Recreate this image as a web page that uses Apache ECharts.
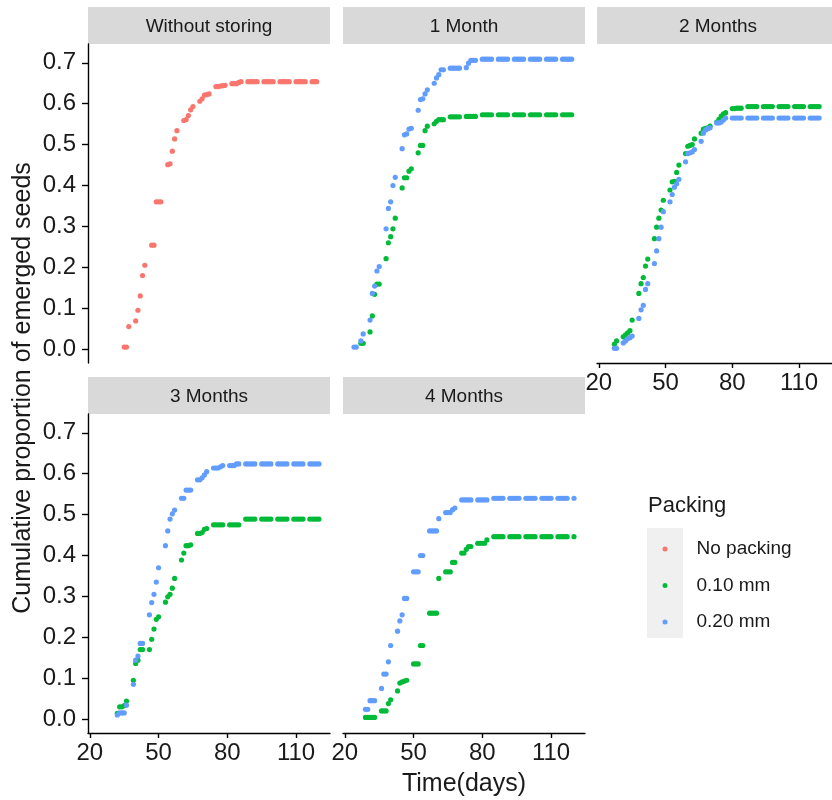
<!DOCTYPE html>
<html><head><meta charset="utf-8">
<script src="https://cdn.jsdelivr.net/npm/echarts@6/dist/echarts.min.js"></script>
<style>html,body{margin:0;padding:0;background:#fff}#c{width:832px;height:800px}</style>
</head><body><div id="c"></div><script>
// ---- data: [day, cumulative proportion] ----
const panelTitles = ['Without storing', '1 Month', '2 Months', '3 Months', '4 Months'];
const packingNames = ['No packing', '0.10 mm', '0.20 mm'];
const xTicks = [20, 50, 80, 110];
const yTicks = [0, 0.1, 0.2, 0.3, 0.4, 0.5, 0.6, 0.7];

const noStore_none = [
[35,0.005],[36,0.005],[37,0.055],[40,0.069],[41,0.095],[42,0.13],[43,0.18],[44,0.205],
[47,0.254],[48,0.254],[49,0.36],[50,0.36],[51,0.36],[54,0.451],[55,0.453],[56,0.484],[57,0.514],[58,0.534],
[61,0.559],[62,0.561],[63,0.571],[64,0.585],[65,0.593],[68,0.606],[69,0.612],[70,0.621],[71,0.622],[72,0.624],
[75,0.642],[76,0.642],[77,0.643],[78,0.644],[79,0.645],[82,0.649],[83,0.649],[84,0.649],[85,0.652],[86,0.654],
[89,0.654],[90,0.654],[91,0.654],[92,0.654],[93,0.654],[96,0.654],[97,0.654],[98,0.654],[99,0.654],[100,0.654],
[103,0.654],[104,0.654],[105,0.654],[106,0.654],[107,0.654],[110,0.654],[111,0.654],[112,0.654],[113,0.654],[114,0.654],
[117,0.654],[118,0.654],[119,0.654]];

const m1_010 = [
[27,0.014],[28,0.014],[31,0.042],[32,0.081],[33,0.134],[34,0.159],[35,0.159],[38,0.221],[39,0.26],[40,0.275],[41,0.294],[42,0.32],
[45,0.394],[46,0.419],[47,0.419],[48,0.435],[49,0.441],[52,0.48],[53,0.498],[54,0.498],[55,0.534],[56,0.545],
[59,0.551],[60,0.557],[61,0.561],[62,0.561],[63,0.561],[66,0.568],[67,0.568],[68,0.568],[69,0.568],[70,0.568],
[73,0.569],[74,0.569],[75,0.569],[76,0.569],[77,0.569],[80,0.573],[81,0.573],[82,0.573],[83,0.573],[84,0.573],
[87,0.573],[88,0.573],[89,0.573],[90,0.573],[91,0.573],[94,0.573],[95,0.573],[96,0.573],[97,0.573],[98,0.573],
[101,0.573],[102,0.573],[103,0.573],[104,0.573],[105,0.573],[108,0.573],[109,0.573],[110,0.573],[111,0.573],[112,0.573],
[115,0.573],[116,0.573],[117,0.573],[118,0.573],[119,0.573]];

const m1_020 = [
[24,0.005],[25,0.005],[27,0.02],[28,0.037],[31,0.071],[32,0.136],[33,0.154],[34,0.191],[35,0.202],
[38,0.294],[39,0.344],[40,0.36],[41,0.40],[42,0.42],[45,0.49],[46,0.524],[47,0.526],[48,0.538],[49,0.54],
[52,0.584],[53,0.61],[54,0.612],[55,0.624],[56,0.634],[59,0.65],[60,0.663],[61,0.671],[62,0.683],[63,0.683],
[66,0.687],[67,0.687],[68,0.687],[69,0.687],[70,0.687],[73,0.688],[74,0.699],[75,0.706],[76,0.706],[77,0.706],
[80,0.709],[81,0.709],[82,0.709],[83,0.709],[84,0.709],[87,0.709],[88,0.709],[89,0.709],[90,0.709],[91,0.709],
[94,0.709],[95,0.709],[96,0.709],[97,0.709],[98,0.709],[101,0.709],[102,0.709],[103,0.709],[104,0.709],[105,0.709],
[108,0.709],[109,0.709],[110,0.709],[111,0.709],[112,0.709],[115,0.709],[116,0.709],[117,0.709],[118,0.709],[119,0.709]];

const m2_010 = [
[27,0.012],[28,0.02],[31,0.03],[32,0.035],[33,0.04],[34,0.045],[35,0.071],[38,0.136],[39,0.16],[40,0.175],[41,0.203],[42,0.22],
[45,0.27],[46,0.298],[47,0.32],[48,0.34],[49,0.364],[52,0.389],[53,0.409],[54,0.41],[55,0.432],[56,0.45],
[59,0.478],[60,0.496],[61,0.498],[62,0.5],[63,0.514],[66,0.528],[67,0.538],[68,0.54],[69,0.541],[70,0.545],
[73,0.555],[74,0.562],[75,0.57],[76,0.575],[77,0.578],[80,0.588],[81,0.588],[82,0.589],[83,0.589],[84,0.589],
[87,0.593],[88,0.593],[89,0.593],[90,0.593],[91,0.593],[94,0.593],[95,0.593],[96,0.593],[97,0.593],[98,0.593],
[101,0.593],[102,0.593],[103,0.593],[104,0.593],[105,0.593],[108,0.593],[109,0.593],[110,0.593],[111,0.593],[112,0.593],
[115,0.593],[116,0.593],[117,0.593],[118,0.593],[119,0.593]];

const m2_020 = [
[27,0.002],[28,0.002],[31,0.015],[32,0.02],[33,0.025],[34,0.028],[35,0.032],[38,0.075],[39,0.096],[40,0.107],[41,0.146],[42,0.16],
[45,0.209],[46,0.24],[47,0.27],[48,0.298],[49,0.336],[52,0.36],[53,0.378],[54,0.396],[55,0.404],[56,0.415],
[59,0.458],[60,0.478],[61,0.48],[62,0.482],[63,0.488],[66,0.508],[67,0.528],[68,0.536],[69,0.539],[70,0.541],
[73,0.553],[74,0.553],[75,0.555],[76,0.56],[77,0.565],[80,0.565],[81,0.565],[82,0.565],[83,0.565],[84,0.565],
[87,0.565],[88,0.565],[89,0.565],[90,0.565],[91,0.565],[94,0.565],[95,0.565],[96,0.565],[97,0.565],[98,0.565],
[101,0.565],[102,0.565],[103,0.565],[104,0.565],[105,0.565],[108,0.565],[109,0.565],[110,0.565],[111,0.565],[112,0.565],
[115,0.565],[116,0.565],[117,0.565],[118,0.565],[119,0.565]];

const m3_010 = [
[32,0.014],[33,0.03],[34,0.03],[35,0.033],[36,0.044],[39,0.095],[40,0.136],[41,0.144],[42,0.17],[43,0.17],
[46,0.17],[47,0.195],[48,0.22],[49,0.244],[50,0.25],[53,0.286],[54,0.299],[55,0.305],[56,0.32],[57,0.344],
[60,0.389],[61,0.406],[62,0.424],[63,0.424],[64,0.426],[67,0.454],[68,0.454],[69,0.456],[70,0.464],[71,0.466],
[74,0.475],[75,0.475],[76,0.475],[77,0.475],[78,0.475],[81,0.475],[82,0.475],[83,0.475],[84,0.475],[85,0.475],
[88,0.489],[89,0.489],[90,0.489],[91,0.489],[92,0.489],[95,0.489],[96,0.489],[97,0.489],[98,0.489],[99,0.489],
[102,0.489],[103,0.489],[104,0.489],[105,0.489],[106,0.489],[109,0.489],[110,0.489],[111,0.489],[112,0.489],[113,0.489],
[116,0.489],[117,0.489],[118,0.489],[119,0.489],[120,0.489]];

const m3_020 = [
[32,0.01],[33,0.015],[34,0.015],[35,0.015],[36,0.034],[39,0.085],[40,0.144],[41,0.154],[42,0.185],[43,0.185],
[46,0.255],[47,0.285],[48,0.305],[49,0.335],[50,0.37],[53,0.424],[54,0.46],[55,0.489],[56,0.502],[57,0.511],
[60,0.54],[61,0.54],[62,0.56],[63,0.56],[64,0.56],[67,0.585],[68,0.585],[69,0.59],[70,0.597],[71,0.605],
[74,0.614],[75,0.614],[76,0.614],[77,0.617],[78,0.62],[81,0.62],[82,0.62],[83,0.62],[84,0.624],[85,0.624],
[88,0.624],[89,0.624],[90,0.624],[91,0.624],[92,0.624],[95,0.624],[96,0.624],[97,0.624],[98,0.624],[99,0.624],
[102,0.624],[103,0.624],[104,0.624],[105,0.624],[106,0.624],[109,0.624],[110,0.624],[111,0.624],[112,0.624],[113,0.624],
[116,0.624],[117,0.624],[118,0.624],[119,0.624],[120,0.624]];

const m4_010 = [
[29,0.004],[30,0.004],[31,0.004],[32,0.004],[33,0.004],[36,0.02],[37,0.02],[38,0.02],[39,0.038],[40,0.047],
[43,0.069],[44,0.088],[45,0.091],[46,0.093],[47,0.095],[50,0.135],[51,0.135],[52,0.135],[53,0.18],[54,0.18],
[57,0.259],[58,0.259],[59,0.259],[60,0.259],[61,0.344],[64,0.36],[65,0.36],[66,0.36],[67,0.383],[68,0.383],
[71,0.406],[72,0.406],[73,0.415],[74,0.422],[75,0.422],[78,0.43],[79,0.43],[80,0.43],[81,0.43],[82,0.438],
[85,0.446],[86,0.446],[87,0.446],[88,0.446],[89,0.446],[92,0.446],[93,0.446],[94,0.446],[95,0.446],[96,0.446],
[99,0.446],[100,0.446],[101,0.446],[102,0.446],[103,0.446],[106,0.446],[107,0.446],[108,0.446],[109,0.446],[110,0.446],
[113,0.446],[114,0.446],[115,0.446],[116,0.446],[117,0.446],[120,0.446]];

const m4_020 = [
[29,0.024],[30,0.024],[31,0.045],[32,0.045],[33,0.045],[36,0.075],[37,0.11],[38,0.11],[39,0.14],[40,0.18],
[43,0.215],[44,0.24],[45,0.255],[46,0.295],[47,0.295],[50,0.36],[51,0.36],[52,0.36],[53,0.40],[54,0.40],
[57,0.46],[58,0.46],[59,0.46],[60,0.46],[61,0.49],[64,0.505],[65,0.505],[66,0.505],[67,0.512],[68,0.516],
[71,0.536],[72,0.536],[73,0.536],[74,0.536],[75,0.536],[78,0.536],[79,0.536],[80,0.536],[81,0.536],[82,0.536],
[85,0.54],[86,0.54],[87,0.54],[88,0.54],[89,0.54],[92,0.54],[93,0.54],[94,0.54],[95,0.54],[96,0.54],
[99,0.54],[100,0.54],[101,0.54],[102,0.54],[103,0.54],[106,0.54],[107,0.54],[108,0.54],[109,0.54],[110,0.54],
[113,0.54],[114,0.54],[115,0.54],[116,0.54],[117,0.54],[120,0.54]];

// ---- styling / layout ----
const FONT = '"Liberation Sans", Arial, Helvetica, sans-serif';
const colors = ['#F8766D', '#00BA38', '#619CFF'];
const gridPos = [[88, 44], [343, 44], [597, 44], [88, 414], [343, 414]];
const PW = 242, PH = 319, STRIP = 37;
const showY = [true, false, false, true, false];
const showX = [false, false, true, true, true];

const panelSeries = [
  [[0, noStore_none]],
  [[1, m1_010], [2, m1_020]],
  [[1, m2_010], [2, m2_020]],
  [[1, m3_010], [2, m3_020]],
  [[1, m4_010], [2, m4_020]]
];

const grids = [], xAxes = [], yAxes = [], series = [], graphics = [];
gridPos.forEach(([l, t], i) => {
  grids.push({ left: l, top: t, width: PW, height: PH, containLabel: false });
  xAxes.push({
    gridIndex: i, type: 'value', min: 19.2, max: 124.8, show: showX[i],
    axisLine: { show: true, onZero: false, lineStyle: { color: '#000', width: 1.4 } },
    axisTick: { show: true, length: 5, customValues: xTicks, lineStyle: { color: '#000', width: 1.4 } },
    axisLabel: { customValues: xTicks, fontSize: 24, fontFamily: FONT, color: '#1a1a1a', margin: 8 },
    splitLine: { show: false }
  });
  yAxes.push({
    gridIndex: i, type: 'value', min: -0.034, max: 0.746, show: showY[i],
    axisLine: { show: true, onZero: false, lineStyle: { color: '#000', width: 1.4 } },
    axisTick: { show: true, length: 6, customValues: yTicks, lineStyle: { color: '#000', width: 1.4 } },
    axisLabel: { customValues: yTicks, formatter: v => v.toFixed(1), fontSize: 24, fontFamily: FONT, color: '#1a1a1a', margin: 12 },
    splitLine: { show: false }
  });
  panelSeries[i].forEach(([ci, data]) => {
    series.push({
      type: 'scatter', name: packingNames[ci], xAxisIndex: i, yAxisIndex: i,
      data: data, symbol: 'circle', symbolSize: 5.2,
      itemStyle: { color: colors[ci], opacity: 1 },
      emphasis: { disabled: true }, silent: true
    });
  });
  graphics.push({ type: 'rect', shape: { x: l, y: t - STRIP, width: PW, height: STRIP }, style: { fill: '#D9D9D9' }, silent: true });
  graphics.push({ type: 'text', x: l + PW / 2, y: t - STRIP / 2 + 1.5, silent: true,
    style: { text: panelTitles[i], font: '19px ' + FONT, fill: '#1a1a1a', textAlign: 'center', textVerticalAlign: 'middle' } });
});

// axis titles
graphics.push({ type: 'text', x: 23, y: 388, rotation: Math.PI / 2, silent: true,
  style: { text: 'Cumulative proportion of emerged seeds', font: '25px ' + FONT, fill: '#1a1a1a', textAlign: 'center', textVerticalAlign: 'middle' } });
graphics.push({ type: 'text', x: 464, y: 784, silent: true,
  style: { text: 'Time(days)', font: '25px ' + FONT, fill: '#1a1a1a', textAlign: 'center', textVerticalAlign: 'middle' } });
// legend title and key background
graphics.push({ type: 'text', x: 648, y: 506, silent: true,
  style: { text: 'Packing', font: '22px ' + FONT, fill: '#1a1a1a', textAlign: 'left', textVerticalAlign: 'middle' } });
graphics.push({ type: 'rect', shape: { x: 647, y: 528, width: 36, height: 110 }, style: { fill: '#F0F0F0' }, silent: true });

const chart = echarts.init(document.getElementById('c'), null, { renderer: 'canvas' });
chart.setOption({
  animation: false,
  backgroundColor: '#fff',
  grid: grids, xAxis: xAxes, yAxis: yAxes, series: series,
  legend: {
    data: packingNames, orient: 'vertical', left: 662.5, top: 539.5, padding: 0,
    itemWidth: 5, itemHeight: 5, itemGap: 17.5, icon: 'circle', selectedMode: false,
    textStyle: { fontSize: 19, fontFamily: FONT, color: '#1a1a1a', padding: [0, 0, 0, 24] }
  },
  graphic: graphics
});
</script></body></html>
